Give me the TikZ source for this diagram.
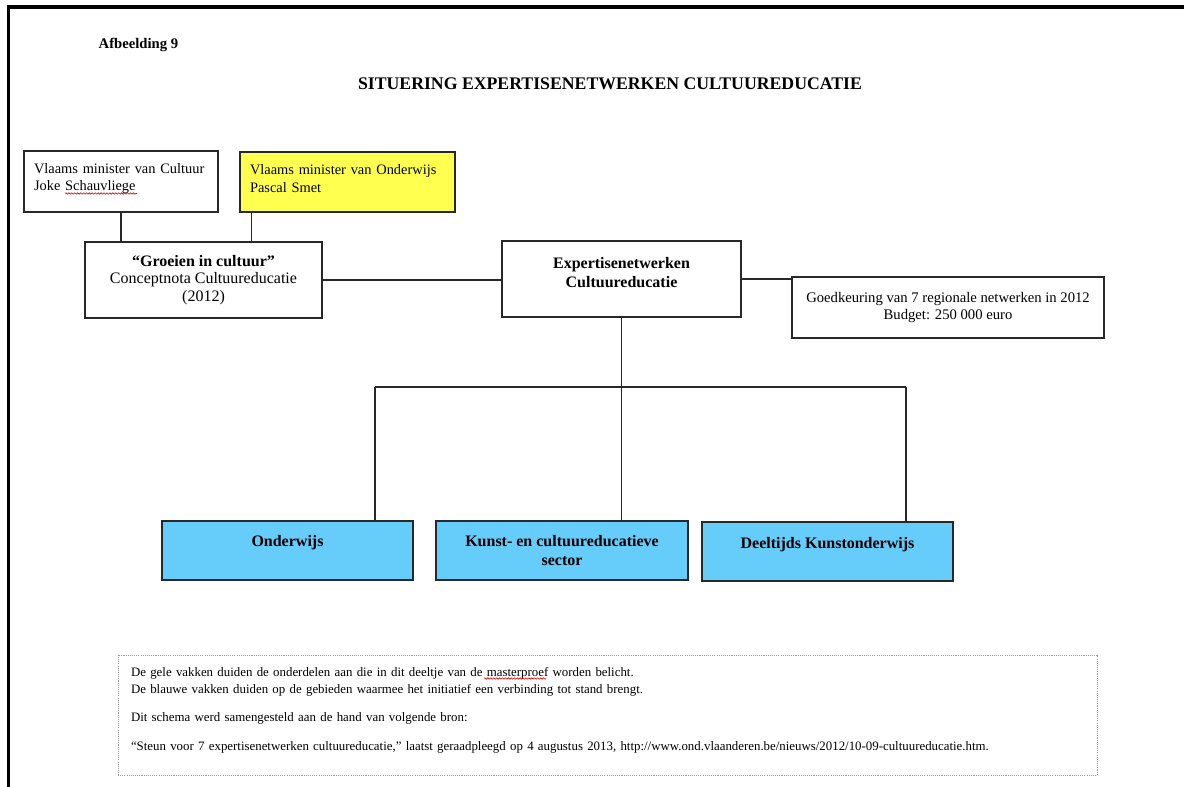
\documentclass[tikz,border=0pt]{standalone}
\usepackage{fontspec}
\setmainfont{Liberation Serif}
\usetikzlibrary{decorations.pathmorphing}
\definecolor{yel}{RGB}{255,255,80}
\definecolor{blu}{RGB}{102,204,250}
\definecolor{ln}{RGB}{40,40,40}
\begin{document}
\begin{tikzpicture}[x=0.75pt,y=-0.75pt,
  box/.style={draw=ln, line width=1pt, inner xsep=7.5pt, inner ysep=2pt, font=\fontsize{10.8}{13.2}\selectfont},
  bbox/.style={box, font=\fontsize{12}{14.4}\selectfont\bfseries, align=center},
  bluebox/.style={bbox, fill=blu},
  note/.style={draw=gray!80, dash pattern=on 0.8pt off 0.8pt, line width=0.75pt, inner xsep=9.75pt, inner ysep=2pt, align=left, font=\fontsize{9.65}{12.75}\selectfont},
  conn/.style={draw=ln, line width=0.8pt},
  squiggle/.style={draw=red!85!black, line width=0.45pt, decorate, decoration={snake, amplitude=0.55pt, segment length=2.2pt}}]
\useasboundingbox (0,0) rectangle (1184,787);
\fill[white] (0,0) rectangle (1184,787);
\draw[line width=2.4pt] (8.5,787) -- (8.5,7) -- (1184,7);

\node[anchor=west, font=\fontsize{11}{13}\selectfont\bfseries] (fig) at (94,45) {Afbeelding 9};
\node[font=\fontsize{13.3}{15}\selectfont\bfseries] (title) at (610,84) {SITUERING EXPERTISENETWERKEN CULTUUREDUCATIE};

\node[box, align=left, text width=130.5pt, minimum width=145.5pt, minimum height=45.75pt] (b1) at (121,181.5) {Vlaams minister van Cultuur\\ Joke Schauvliege\rule[-6.5pt]{0pt}{0pt}};
\node[box, fill=yel, align=left, text width=146.25pt, minimum width=161.25pt, minimum height=45pt] (b2) at (347.5,182) {Vlaams minister van Onderwijs\\ Pascal Smet\rule[-5pt]{0pt}{0pt}};
\node[box, align=center, minimum width=177.75pt, minimum height=57pt, font=\fontsize{12}{13.2}\selectfont] (b3) at (203.5,280) {{\bfseries “Groeien in cultuur”}\\ Conceptnota Cultuureducatie\\ (2012)};
\node[bbox, minimum width=179.25pt, minimum height=57pt] (b4) at (621.5,279) {Expertisenetwerken\\ Cultuureducatie\rule[-10.4pt]{0pt}{0pt}};
\node[box, align=center, minimum width=234pt, minimum height=45.75pt, font=\fontsize{11}{13.2}\selectfont] (b5) at (948,307.5) {Goedkeuring van 7 regionale netwerken in 2012\\ Budget: 250 000 euro};

\node[bluebox, minimum width=188.25pt, minimum height=44.25pt] (o1) at (287.5,550.5) {Onderwijs\rule[-14.4pt]{0pt}{0pt}};
\node[bluebox, minimum width=189pt, minimum height=44.25pt] (o2) at (562,550.5) {Kunst- en cultuureducatieve\\ sector};
\node[bluebox, minimum width=188.25pt, minimum height=44.25pt] (o3) at (827.5,551.5) {Deeltijds Kunstonderwijs\rule[-13pt]{0pt}{0pt}};

\node[note, text width=714.75pt, minimum width=734.25pt, minimum height=90pt] (nt) at (607.5,715) {De gele vakken duiden de onderdelen aan die in dit deeltje van de masterproef worden belicht.\\
De blauwe vakken duiden op de gebieden waarmee het initiatief een verbinding tot stand brengt.\\[8.6pt]
Dit schema werd samengesteld aan de hand van volgende bron:\\[8.6pt]
“Steun voor 7 expertisenetwerken cultuureducatie,” laatst geraadpleegd op 4 augustus 2013, http://www.ond.vlaanderen.be/nieuws/2012/10-09-cultuureducatie.htm.\rule[-9.5pt]{0pt}{0pt}};

% spell-check marks
\path[squiggle] (65,193.5) -- (137,193.5);
\path[squiggle] (484,678.5) -- (546,678.5);

\draw[conn] (b1.south) -- (b1.south |- b3.north);
\coordinate (b2c) at ([xshift=9pt]b2.south west);
\draw[conn] (b2c) -- (b2c |- b3.north);
\draw[conn] (b3.east) -- (b3.east -| b4.west);
\draw[conn] (b4.east) -- (b4.east -| b5.west);
\coordinate (busL) at (375,387);
\coordinate (busR) at (906,387);
\coordinate (busM) at (b4.south |- busL);
\draw[conn] (b4.south) -- (busM);
\draw[conn] (busL) -- (busR);
\draw[conn] (busL) -- (busL |- o1.north);
\draw[conn] (busM) -- (busM |- o2.north);
\draw[conn] (busR) -- (busR |- o3.north);
\end{tikzpicture}
\end{document}
